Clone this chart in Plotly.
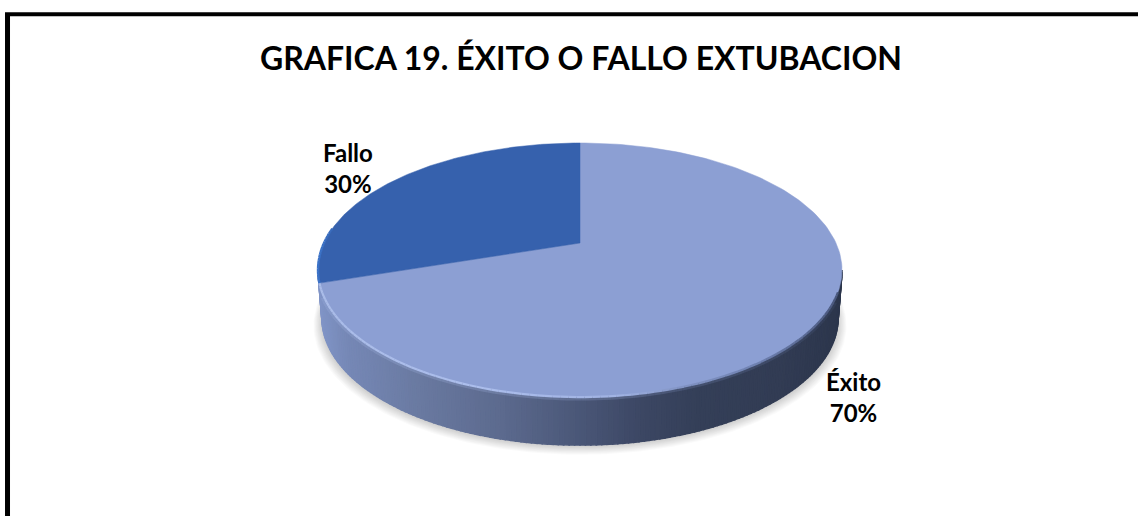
import numpy as np
import plotly.graph_objects as go

# Data
categories = ["Éxito", "Fallo"]
values = [70, 30]
slice_colors = ["#8C9FD3", "#3661AD"]
title_text = "GRAFICA 19. ÉXITO O FALLO EXTUBACION"

# Tilted-disc view of the pie (pixel-like axis units)
CX, CY = 580.0, 243.0
WIDE, TALL, TILT = 256.0, 121.3, 0.2126
DEPTH = 48.0
FOOT = 0.985
FONT = "Lato, Carlito, Calibri, sans-serif"


def project(deg, r=1.0):
    t = np.radians(deg)
    X, Y = r * np.sin(t), r * np.cos(t)
    w = 1 + TILT * Y
    return CX + WIDE * X / w, CY - TALL * Y / w


def blend(stops, x):
    xs = [s[0] for s in stops]
    rgb = [np.interp(x, xs, [s[1][i] for s in stops]) for i in range(3)]
    return "rgb(%d,%d,%d)" % tuple(int(round(v)) for v in rgb)


WALL_STOPS = [
    (318, (128, 148, 198)), (345, (118, 136, 182)), (420, (105, 121, 160)),
    (500, (92, 106, 142)), (570, (76, 89, 122)), (640, (60, 71, 100)),
    (700, (52, 63, 88)), (780, (50, 60, 84)), (842, (44, 54, 76)),
]
RIM_STOPS = [
    (318, (170, 188, 232)), (480, (172, 190, 236)), (620, (160, 178, 226)),
    (680, (130, 148, 196)), (760, (110, 128, 175)), (842, (70, 84, 120)),
]

fig = go.Figure()


def poly(x, y, color, opacity=1.0, name=None, lw=1.0):
    fig.add_trace(go.Scatter(
        x=x, y=y, mode="lines", fill="toself", fillcolor=color,
        line=dict(color=color, width=lw), opacity=opacity,
        hoverinfo="skip" if name is None else "name", name=name or "",
        showlegend=False,
    ))


def rim_line(a0, a1, stops, width, opacity=1.0, n=100):
    edge = np.linspace(a0, a1, n + 1)
    for a, b in zip(edge[:-1], edge[1:]):
        xa, ya = project(a)
        xb, yb = project(b)
        fig.add_trace(go.Scatter(
            x=[xa, xb], y=[ya, yb], mode="lines", opacity=opacity,
            line=dict(color=blend(stops, (xa + xb) / 2), width=width),
            hoverinfo="skip", showlegend=False,
        ))


# Soft ground shadow
rim = np.linspace(0, 360, 241)
for k in range(9):
    sx, sy = project(rim)
    g = FOOT + (9 - k) * 0.0036
    poly(CX + (sx - CX) * g, 270 + DEPTH + 3 + (sy - 270) * g + (9 - k) * 0.5, "#000000", 0.02, lw=0)

# Side wall, as narrow vertical strips
edge = np.linspace(102.3, 257.7, 161)
for a, b in zip(edge[:-1], edge[1:]):
    xa, ya = project(a)
    xb, yb = project(b)
    xa2, xb2 = CX + (xa - CX) * FOOT, CX + (xb - CX) * FOOT
    poly([xa, xb, xb2, xa2, xa], [ya, yb, yb + DEPTH, ya + DEPTH, ya],
         blend(WALL_STOPS, (xa + xb) / 2), lw=1.6)

# Soft shade just below the bevel
rim_line(116, 246, RIM_STOPS, 7, 0.22)

# Top of the pie: slices clockwise from twelve o'clock
start = 0.0
total = sum(values)
for cat, val, col in zip(categories, values, slice_colors):
    end = start + 360.0 * val / total
    arc = np.linspace(start, end, 181)
    ax, ay = project(arc)
    px, py = project(0.0, 0.0)
    poly(np.r_[px, ax, px], np.r_[py, ay, py], col, name=cat, lw=0.5)
    start = end

# Bevel highlight along the front rim, brighter blue on the left of the small slice
boundary = 360.0 * values[0] / total
rim_line(112, boundary, RIM_STOPS, 2.2)
rim_line(boundary, boundary + 25, [(318, (58, 114, 200)), (345, (54, 97, 173))], 2.4, n=20)

# Labels
label_at = {"Éxito": (853, 397), "Fallo": (348, 168)}
for cat, val in zip(categories, values):
    fig.add_annotation(
        x=label_at[cat][0], y=label_at[cat][1], text=f"<b>{cat}<br>{val}%</b>",
        showarrow=False, font=dict(family=FONT, size=24, color="#000000"),
        xanchor="center", yanchor="middle", align="center",
    )

fig.update_layout(
    title=dict(text=f"<b>{title_text}</b>", x=0.5105, xanchor="center", y=0.887, yanchor="middle",
               font=dict(family=FONT, size=32, color="#000000")),
    width=1138, height=516,
    margin=dict(l=0, r=0, t=0, b=0),
    paper_bgcolor="#FFFFFF", plot_bgcolor="#FFFFFF",
    xaxis=dict(range=[0, 1138], visible=False, fixedrange=True),
    yaxis=dict(range=[516, 0], visible=False, fixedrange=True),
    showlegend=False,
    shapes=[
        dict(type="line", xref="paper", yref="paper", x0=0.0066, x1=0.0066, y0=0, y1=0.9722,
             line=dict(color="#000000", width=5)),
        dict(type="line", xref="paper", yref="paper", x0=0.0044, x1=1, y0=0.9722, y1=0.9722,
             line=dict(color="#000000", width=4)),
    ],
)
fig.write_html("out.html", config={"displayModeBar": False},
               post_script="document.body.style.margin='0';")
